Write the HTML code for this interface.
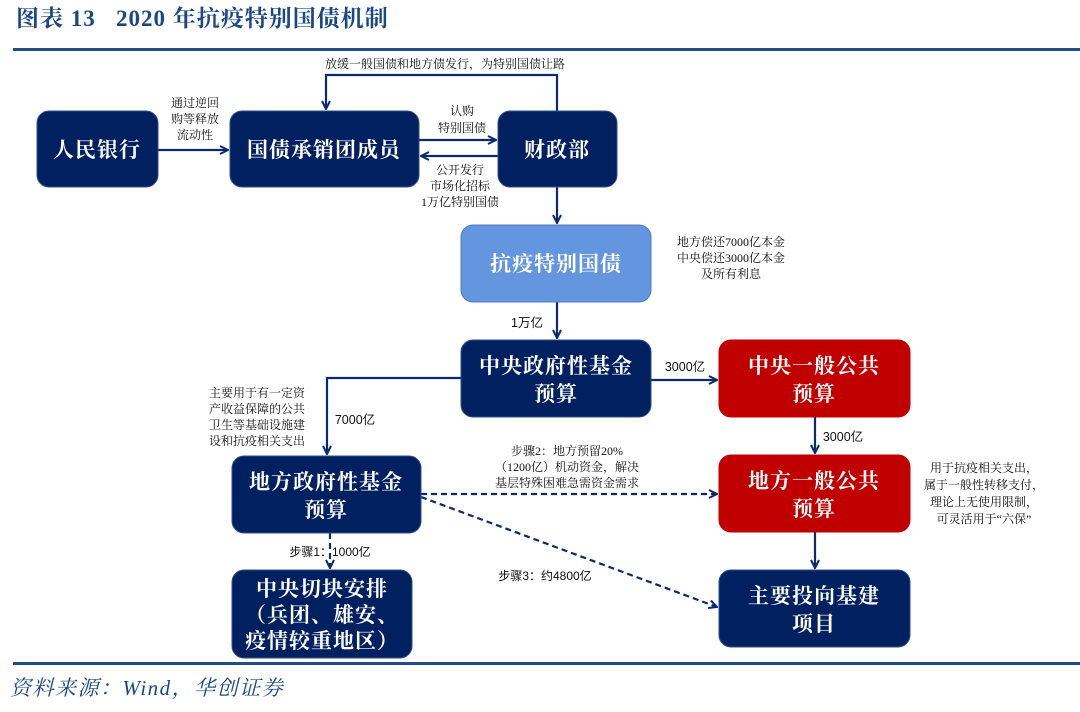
<!DOCTYPE html>
<html><head><meta charset="utf-8"><style>
html,body{margin:0;padding:0;background:#fff;}
svg{display:block;}
.b{font-family:"Liberation Serif","Noto Serif CJK SC",serif;font-weight:700;fill:#fff;font-size:21px;text-anchor:middle;letter-spacing:1px;}
.s{font-family:"Liberation Serif","Noto Serif CJK SC",serif;fill:#111;font-size:12px;text-anchor:middle;}
.n{font-family:"Liberation Sans","Noto Sans CJK SC",sans-serif;fill:#111;font-size:12.5px;text-anchor:middle;}
</style></head><body>
<svg width="1080" height="712" viewBox="0 0 1080 712" xmlns="http://www.w3.org/2000/svg">
<defs>
<marker id="a" markerWidth="10" markerHeight="10" refX="9" refY="5" orient="auto" markerUnits="userSpaceOnUse">
<path d="M1,1 L9,5 L1,9" fill="none" stroke="#0a2a6a" stroke-width="2"/>
</marker>
</defs>
<text x="16" y="26" style="font-family:'Liberation Serif','Noto Serif CJK SC',serif;font-weight:700;font-size:23px;fill:#1b4787;letter-spacing:1px;" xml:space="preserve">图表 13   2020 年抗疫特别国债机制</text>
<rect x="13" y="48" width="1067" height="3" fill="#1f4e8c"/>
<rect x="13" y="662" width="1067" height="3" fill="#1f4e8c"/>
<text x="10" y="695" style="font-family:'Liberation Serif','Noto Serif CJK SC',serif;font-style:italic;font-size:21px;fill:#1b4787;letter-spacing:1.5px;">资料来源：Wind，华创证券</text>

<g stroke="#0a2a6a" stroke-width="2.2" fill="none">
<path d="M557,111 V75 H326 V109" marker-end="url(#a)"/>
<path d="M158,150 H228" marker-end="url(#a)"/>
<path d="M419,140 H496" marker-end="url(#a)"/>
<path d="M498,156 H421" marker-end="url(#a)"/>
<path d="M557,187 V223" marker-end="url(#a)"/>
<path d="M557,302 V338" marker-end="url(#a)"/>
<path d="M651,380 H717" marker-end="url(#a)"/>
<path d="M461,378 H327 V454" marker-end="url(#a)"/>
<path d="M815,417 V453" marker-end="url(#a)"/>
<path d="M815,532 V568" marker-end="url(#a)"/>
<g stroke-dasharray="6,4">
<path d="M421,494 H717" marker-end="url(#a)"/>
<path d="M421,497 L717,607" marker-end="url(#a)"/>
<path d="M330,533 V568" marker-end="url(#a)"/>
</g>
</g>

<g stroke="#2d4f8a" stroke-width="1">
<rect x="37" y="111" width="121" height="76" rx="12" fill="#002060"/>
<rect x="230" y="111" width="189" height="76" rx="12" fill="#002060"/>
<rect x="498" y="111" width="119" height="76" rx="12" fill="#002060"/>
<rect x="461" y="225" width="190" height="77" rx="12" fill="#6396de" stroke="#4f7fc2"/>
<rect x="461" y="340" width="190" height="77" rx="12" fill="#002060"/>
<rect x="719" y="340" width="191" height="77" rx="12" fill="#c00000" stroke="#c00000"/>
<rect x="232" y="456" width="189" height="77" rx="12" fill="#002060"/>
<rect x="719" y="455" width="191" height="77" rx="12" fill="#c00000" stroke="#c00000"/>
<rect x="232" y="570" width="180" height="88" rx="12" fill="#002060"/>
<rect x="719" y="570" width="191" height="77" rx="12" fill="#002060"/>
</g>

<text class="b" x="97" y="157">人民银行</text>
<text class="b" x="324" y="157">国债承销团成员</text>
<text class="b" x="557" y="157">财政部</text>
<text class="b" x="556" y="271">抗疫特别国债</text>
<text class="b" x="556" y="373">中央政府性基金</text>
<text class="b" x="556" y="401">预算</text>
<text class="b" x="814" y="373">中央一般公共</text>
<text class="b" x="814" y="401">预算</text>
<text class="b" x="326" y="489">地方政府性基金</text>
<text class="b" x="326" y="517">预算</text>
<text class="b" x="814" y="488">地方一般公共</text>
<text class="b" x="814" y="516">预算</text>
<text class="b" x="322" y="596">中央切块安排</text>
<text class="b" x="322" y="622">（兵团、雄安、</text>
<text class="b" x="322" y="648">疫情较重地区）</text>
<text class="b" x="814" y="603">主要投向基建</text>
<text class="b" x="814" y="631">项目</text>

<text class="s" x="445" y="68">放缓一般国债和地方债发行，为特别国债让路</text>
<text class="s" x="195" y="107">通过逆回</text>
<text class="s" x="195" y="123">购等释放</text>
<text class="s" x="195" y="139">流动性</text>
<text class="s" x="462" y="115">认购</text>
<text class="s" x="462" y="132">特别国债</text>
<text class="s" x="460" y="174">公开发行</text>
<text class="s" x="460" y="190">市场化招标</text>
<text class="s" x="460" y="206">1万亿特别国债</text>
<text class="s" x="731" y="246">地方偿还7000亿本金</text>
<text class="s" x="731" y="262">中央偿还3000亿本金</text>
<text class="s" x="731" y="278">及所有利息</text>
<text class="n" x="527" y="327">1万亿</text>
<text class="n" x="685" y="371">3000亿</text>
<text class="n" x="843" y="441">3000亿</text>
<text class="n" x="355" y="424">7000亿</text>
<text class="s" x="257" y="397">主要用于有一定资</text>
<text class="s" x="257" y="413">产收益保障的公共</text>
<text class="s" x="257" y="429">卫生等基础设施建</text>
<text class="s" x="257" y="445">设和抗疫相关支出</text>
<text class="s" x="567" y="455">步骤2：地方预留20%</text>
<text class="s" x="567" y="471">（1200亿）机动资金，解决</text>
<text class="s" x="567" y="487">基层特殊困难急需资金需求</text>
<text class="n" x="330" y="556" style="font-size:12px">步骤1：1000亿</text>
<text class="n" x="545" y="580" style="font-size:12px">步骤3：约4800亿</text>
<text class="s" x="984" y="472">用于抗疫相关支出，</text>
<text class="s" x="984" y="489">属于一般性转移支付，</text>
<text class="s" x="984" y="506">理论上无使用限制，</text>
<text class="s" x="984" y="523">可灵活用于“六保”</text>
</svg>
</body></html>
